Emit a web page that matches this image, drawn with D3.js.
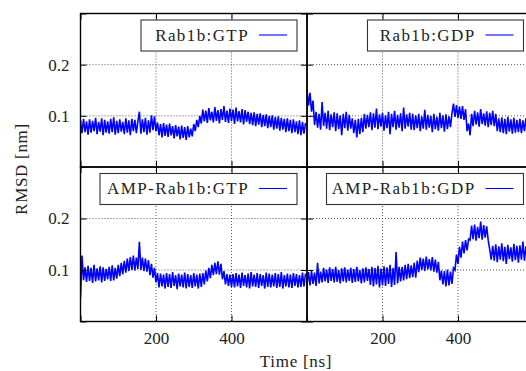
<!DOCTYPE html>
<html>
<head>
<meta charset="utf-8">
<script src="https://cdn.jsdelivr.net/npm/d3@7"></script>
<style>
  body { margin: 0; background: #fff; }
</style>
</head>
<body>
<div id="plot"></div>
<script>
// RMSD traces, one value every 4 ns (0..596 ns)
const step = 4;
const rab1bGTP = [
  .091,.066,.094,.068,.089,.063,.093,.067,.090,.070,.096,.064,.088,.069,.095,.062,.092,.067,.089,.065,.094,.068,.097,.063,.090,
  .066,.093,.069,.088,.064,.095,.067,.091,.062,.094,.070,.092,.066,.089,.108,.065,.093,.068,.096,.063,.091,.067,.101,.072,.099,
  .070,.087,.062,.084,.058,.086,.061,.083,.059,.085,.062,.080,.056,.082,.060,.079,.054,.081,.057,.078,.053,.080,.058,
  .075,.060,.084,.070,.092,.078,.100,.085,
  .112,.089,.110,.086,.115,.091,.108,.087,.117,.090,.111,.085,.113,.092,.119,.088,.110,.086,.114,.090,.112,.084,.116,.089,.109,.087,.113,.083,.111,.088,.108,.084,
  .106,.082,.107,.080,.104,.083,.105,.078,.102,.080,.103,.076,.100,.078,.101,.073,.098,.075,.099,.071,.096,.073,.094,.068,.095,.070,.092,.066,.093,.068,.089,.064,.091,.062,.088,.065,.086
];
const rab1bGDP = [
  .152,.120,.145,.108,.130,
  .082,.108,.077,.104,.073,.127,.080,.106,.075,.110,.072,.103,.078,.107,.070,.105,.074,.101,.062,.104,.076,.108,.071,.102,.075,
  .095,.066,.092,.058,.094,.064,.096,.068,
  .104,.075,.102,.078,.107,.072,.105,.077,.114,.074,.103,.079,.106,.071,.101,.076,.108,.064,.104,.078,.110,.073,.102,.077,.105,.070,.116,.075,.103,.079,.106,.073,.104,
  .072,.101,.076,.104,.070,.099,.075,.112,.073,.102,.077,.100,.068,.104,.074,.098,.071,.106,.076,.101,.069,.103,.074,.099,.078,.105,
  .124,.098,.121,.096,.118,.094,.119,.092,.113,
  .070,.085,.062,
  .104,.080,.110,.083,.107,.079,.113,.084,.105,.081,.109,.078,.106,.082,.110,.080,.104,
  .070,.095,.068,.097,.066,.094,.064,.098,.069,.093,.065,.096,.067,.092,
  .068,.094,.066,.091,.070,.095,.067,.093,.071,.090
];
const ampGTP = [
  .045,
  .128,.080,.105,.077,.108,.079,.104,.075,.110,.078,.103,.080,.107,.076,.105,.079,.102,
  .082,.106,.079,.109,.080,.104,.083,
  .110,.088,.114,.092,.118,.095,.122,.098,.125,.100,.128,.099,.124,.102,.155,
  .100,.124,.098,.122,.097,.119,
  .090,.112,.085,.104,.076,.094,
  .066,.093,.068,.091,.064,.094,.067,.092,.065,.096,.069,.090,.063,.093,.068,.091,.066,.095,.064,.092,.067,.090,.065,.094,.068,.091,.064,.093,.067,
  .094,.072,.099,.078,.104,.084,.110,.090,.114,.092,.117,.091,.112,
  .082,.098,.072,.092,.069,.091,
  .067,.092,.066,.094,.068,.091,.065,.095,.069,.090,.066,.093,.064,.096,.068,.091,.067,.094,.065,.092,
  .069,.090,.064,.095,.067,.093,.066,.091,.068,.094,.065,.092,.067,.096,.064,.090,.068,.093,.066,.091,
  .065,.094,.069,.092,.066,.090,.067,.095,.068,.093
];
const ampGDP = [
  .072,.096,.070,.098,.073,.095,.069,.114,.074,.097,
  .076,.104,.078,.101,.075,.105,.079,.102,.076,.106,.077,.100,.074,.103,.078,.105,.076,.101,.079,.104,
  .075,.102,.077,.106,.078,.100,.074,.103,.076,.105,.079,
  .102,.071,.106,.068,.104,.072,.108,.066,.103,.070,.107,.069,.105,.073,.110,.067,.104,.071,.135,.074,.106,
  .078,.106,.080,.110,.082,.112,.084,.109,.086,.114,.085,
  .118,.096,.124,.100,.122,.098,.126,.101,.121,.099,.125,.097,.120,.095,.116,
  .080,.099,.072,.098,.068,.101,.070,.097,.073,.104,
  .100,.130,.112,.145,.124,.155,.132,.158,.138,.160,
  .158,.186,.160,.188,.157,.184,.162,.194,.159,.187,.163,.185,.158,
  .140,.120,
  .147,.118,.150,.115,.146,.120,.152,.117,.145,.112,.149,.121,.144,.116,.151,.119,.147,.114,.148,.120,
  .155,.118,.146,.122,.150,.117,.145
];

const labels = ["Rab1b:GTP", "Rab1b:GDP", "AMP-Rab1b:GTP", "AMP-Rab1b:GDP"];
const series = [rab1bGTP, rab1bGDP, ampGTP, ampGDP];
const xTicks = [0, 200, 400, 600];
const yTicks = [0, 0.1, 0.2, 0.3];

const FONT = "Liberation Serif";
const W = 526, H = 371;
const svg = d3.select("#plot").append("svg")
    .attr("width", W).attr("height", H)
    .style("display", "block");

// panel geometry
const cols = [[80.5, 307], [307, 533.5]];
const rows = [[13.5, 167], [167, 321.5]];
const boxW = [156, 197];

function fmtY(d) { return (d === 0.1 || d === 0.2) ? d.toFixed(1) : ""; }
function fmtX(d) { return (d === 200 || d === 400) ? d : ""; }

series.forEach((vals, k) => {
    const c = k % 2, r = Math.floor(k / 2);
    const x = d3.scaleLinear().domain([0, 600]).range(cols[c]);
    const y = d3.scaleLinear().domain([0, 0.3]).range([rows[r][1], rows[r][0]]);
    const g = svg.append("g");

    const clipId = "clip" + k;
    g.append("clipPath").attr("id", clipId)
        .append("rect")
        .attr("x", cols[c][0]).attr("y", rows[r][0])
        .attr("width", cols[c][1] - cols[c][0]).attr("height", rows[r][1] - rows[r][0]);

    // dotted grid
    g.selectAll(".gx").data([200, 400]).enter().append("line")
        .attr("x1", d => x(d)).attr("x2", d => x(d))
        .attr("y1", rows[r][0]).attr("y2", rows[r][1])
        .attr("stroke", "#444").attr("stroke-width", 0.9).attr("stroke-dasharray", "1,2");
    g.selectAll(".gy").data([0.1, 0.2]).enter().append("line")
        .attr("x1", cols[c][0]).attr("x2", cols[c][1])
        .attr("y1", d => y(d)).attr("y2", d => y(d))
        .attr("stroke", "#444").attr("stroke-width", 0.9).attr("stroke-dasharray", "1,2");

    // trace
    g.append("path")
        .datum(vals)
        .attr("clip-path", "url(#" + clipId + ")")
        .attr("fill", "none")
        .attr("stroke", "#0000ff")
        .attr("stroke-width", 1.6)
        .attr("d", d3.line()
            .x((d, i) => x(i * step))
            .y(d => y(d)));

    // axes with inward ticks
    const axes = [
        [d3.axisLeft(y).tickValues(yTicks).tickFormat(c === 0 ? fmtY : () => ""), cols[c][0], 0],
        [d3.axisRight(y).tickValues(yTicks).tickFormat(() => ""), cols[c][1], 0],
        [d3.axisBottom(x).tickValues(xTicks).tickFormat(r === 1 ? fmtX : () => ""), 0, rows[r][1]],
        [d3.axisTop(x).tickValues(xTicks).tickFormat(() => ""), 0, rows[r][0]]
    ];
    axes.forEach(([ax, tx, ty], j) => {
        const a = g.append("g")
            .attr("transform", "translate(" + tx + "," + ty + ")")
            .call(ax.tickSize(-6).tickPadding(j === 0 ? 11 : 10.5))
            .attr("font-family", FONT).attr("font-size", 17);
        a.select(".domain").remove();
        a.selectAll("line").attr("stroke", "#000").attr("stroke-width", 1);
        a.selectAll("text").attr("font-family", FONT).attr("fill", "#222");
    });

    // frame
    g.append("rect")
        .attr("x", cols[c][0]).attr("y", rows[r][0])
        .attr("width", cols[c][1] - cols[c][0]).attr("height", rows[r][1] - rows[r][0])
        .attr("fill", "none").attr("stroke", "#000").attr("stroke-width", 1.4);

    // legend
    const bx1 = cols[c][1] - 10, by = rows[r][0] + 6.5;
    g.append("rect")
        .attr("x", bx1 - boxW[r]).attr("y", by)
        .attr("width", boxW[r]).attr("height", 31)
        .attr("fill", "#fff").attr("stroke", "#333").attr("stroke-width", 1.1);
    g.append("text")
        .attr("x", bx1 - 48).attr("y", by + 20.5)
        .attr("text-anchor", "end")
        .attr("font-family", FONT).attr("font-size", 17).attr("fill", "#222")
        .attr("letter-spacing", 1.4)
        .text(labels[k]);
    g.append("line")
        .attr("x1", bx1 - 38).attr("x2", bx1 - 10)
        .attr("y1", by + 15).attr("y2", by + 15)
        .attr("stroke", "#0000ff").attr("stroke-width", 1.1);
});

// axis titles
svg.append("text")
    .attr("x", 296).attr("y", 367)
    .attr("text-anchor", "middle")
    .attr("font-family", FONT).attr("font-size", 17).attr("fill", "#222")
    .attr("letter-spacing", 0.7)
    .text("Time [ns]");
svg.append("text")
    .attr("transform", "translate(27,169) rotate(-90)")
    .attr("text-anchor", "middle")
    .attr("font-family", FONT).attr("font-size", 17).attr("fill", "#222")
    .attr("letter-spacing", 0.7)
    .text("RMSD [nm]");
</script>
</body>
</html>
